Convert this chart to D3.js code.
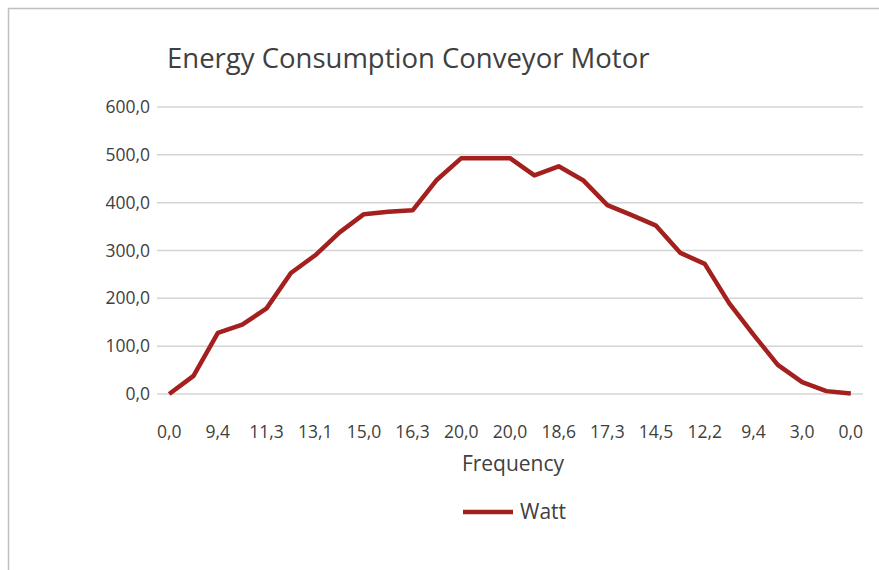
<!DOCTYPE html>
<html>
<head>
<meta charset="utf-8">
<script src="https://cdn.jsdelivr.net/npm/d3@7"></script>
<style>
  body { margin: 0; background: #fff; }
  text { font-family: "Open Sans", sans-serif; fill: #404040; }
</style>
</head>
<body>
<div id="chart"></div>
<script>
// Frequency labels (only every other one is shown on the axis)
const frequency = ["0,0", "2,0", "9,4", "10,3", "11,3", "12,2", "13,1", "14,0", "15,0", "15,6", "16,3", "18,2",
                   "20,0", "20,0", "20,0", "19,3", "18,6", "18,0", "17,3", "15,9", "14,5", "13,4", "12,2",
                   "10,8", "9,4", "6,2", "3,0", "1,5", "0,0"];
const watt = [0, 38, 128, 145, 179, 253, 290, 338, 376, 381, 384, 448,
              493, 493, 493, 457, 476, 447, 395, 374, 352, 295, 272,
              190, 124, 61, 25, 6, 1];
const yTicks = [0, 100, 200, 300, 400, 500, 600];

const width = 879, height = 570;
const margin = { top: 107, right: 16, bottom: 176, left: 157 };

const svg = d3.select("#chart").append("svg")
    .attr("width", width)
    .attr("height", height);

// chart border
svg.append("rect")
    .attr("x", 8.5).attr("y", 8.5)
    .attr("width", width + 10).attr("height", height + 10)
    .attr("fill", "none")
    .attr("stroke", "#bfbfbf")
    .attr("stroke-width", 1.5);

const idx = d3.range(watt.length);
const x = d3.scaleBand()
    .domain(idx)
    .range([margin.left, width - margin.right]);

const y = d3.scaleLinear()
    .domain([0, 600])
    .range([height - margin.bottom, margin.top]);

// gridlines
svg.append("g")
    .selectAll("line")
    .data(yTicks)
    .enter().append("line")
    .attr("x1", margin.left)
    .attr("x2", width - margin.right)
    .attr("y1", d => y(d))
    .attr("y2", d => y(d))
    .attr("stroke", "#d4d4d4")
    .attr("stroke-width", 1.5);

// y labels
svg.append("g")
    .selectAll("text")
    .data(yTicks)
    .enter().append("text")
    .attr("x", margin.left - 7)
    .attr("y", d => y(d))
    .attr("dy", "0.35em")
    .attr("text-anchor", "end")
    .style("font-size", "17.5px")
    .text(d => d3.format(".1f")(d).replace(".", ","));

// x labels, every second category
svg.append("g")
    .selectAll("text")
    .data(idx.filter(i => i % 2 === 0))
    .enter().append("text")
    .attr("x", i => x(i) + x.bandwidth() / 2)
    .attr("y", 432)
    .attr("dy", "0.35em")
    .attr("text-anchor", "middle")
    .style("font-size", "17.5px")
    .text(i => frequency[i]);

// the line
const line = d3.line()
    .x((d, i) => x(i) + x.bandwidth() / 2)
    .y(d => y(d));

svg.append("path")
    .datum(watt)
    .attr("d", line)
    .attr("fill", "none")
    .attr("stroke", "#a3201f")
    .attr("stroke-width", 4.5)
    .attr("stroke-linejoin", "round");

// title
svg.append("text")
    .attr("x", 167)
    .attr("y", 58)
    .attr("dy", "0.35em")
    .style("font-size", "27.5px")
    .text("Energy Consumption Conveyor Motor");

// axis title
svg.append("text")
    .attr("x", 513)
    .attr("y", 464)
    .attr("dy", "0.35em")
    .attr("text-anchor", "middle")
    .style("font-size", "21px")
    .text("Frequency");

// legend
const legend = svg.append("g").attr("transform", "translate(463,512)");
legend.append("line")
    .attr("x1", 0).attr("x2", 50)
    .attr("stroke", "#a3201f")
    .attr("stroke-width", 4.5);
legend.append("text")
    .attr("x", 57)
    .attr("dy", "0.35em")
    .style("font-size", "21px")
    .text("Watt");
</script>
</body>
</html>
